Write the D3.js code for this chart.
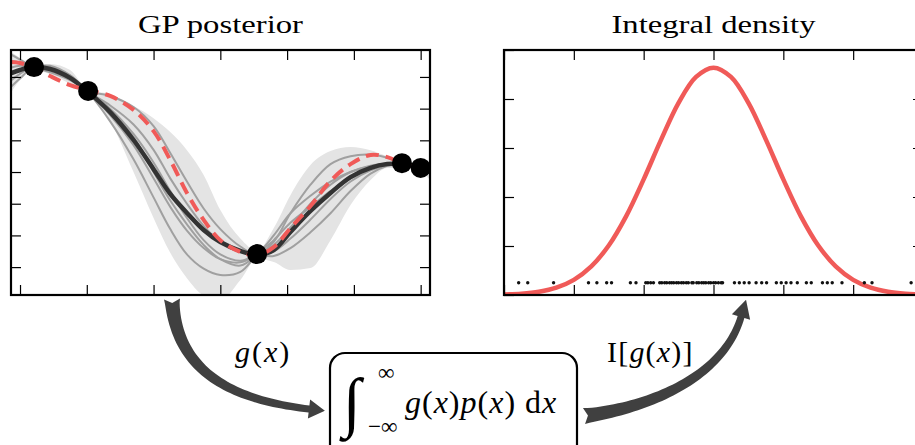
<!DOCTYPE html>
<html>
<head>
<meta charset="utf-8">
<script src="https://cdn.jsdelivr.net/npm/d3@7"></script>
<style>
  body { margin: 0; background: #fff; }
  svg { display: block; }
  .tick text { display: none; }
</style>
</head>
<body>
<div id="chart"></div>
<script>
// GP posterior panel: shared x grid (tick units) and the curves
const gridX = [-0.13, 0, 0.2, 0.45, 0.75, 1.0, 1.35, 1.7, 2.0, 2.25, 2.5, 2.75, 3.0,
               3.3, 3.55, 3.8, 4.05, 4.35, 4.65, 4.95, 5.25, 5.5, 5.72, 6.0, 6.14];
const meanY = [3.12, 3.22, 3.31, 3.25, 2.97, 2.56, 1.89, 1.01, 0.09, -0.69, -1.29, -1.83, -2.21,
               -2.49, -2.62, -2.46, -1.89, -1.23, -0.66, -0.16, 0.13, 0.25, 0.25, 0.13, 0.0];
const trueY = [3.47, 3.44, 3.31, 3.03, 2.74, 2.59, 2.40, 1.96, 1.29, 0.38, -0.66, -1.51, -2.15,
               -2.52, -2.62, -2.37, -1.77, -1.07, -0.28, 0.25, 0.54, 0.47, 0.28, 0.13, 0.06];
const bandUpper = [3.79, 3.60, 3.38, 3.41, 3.22, 2.62, 2.45, 2.08, 1.70, 1.26, 0.69, -0.09, -1.20,
                   -2.10, -2.49, -1.77, -0.73, 0.22, 0.66, 0.79, 0.69, 0.50, 0.38, 0.25, 0.22];
const bandLower = [2.52, 2.90, 3.22, 3.09, 2.78, 2.49, 1.60, 0.0, -1.45, -2.55, -3.35, -3.90, -4.05,
                   -3.41, -2.74, -2.84, -3.09, -3.03, -2.15, -1.04, -0.25, 0.13, 0.13, 0.0, -0.25];
const sample1 = [3.5, 3.45, 3.31, 3.2, 2.95, 2.56, 2.4, 2.05, 1.45, 0.6, -0.3, -1.15, -1.8,
                 -2.35, -2.6, -2.2, -1.3, -0.4, 0.25, 0.5, 0.55, 0.45, 0.3, 0.13, 0.05];
const sample2 = [2.7, 2.95, 3.3, 3.3, 3.0, 2.56, 1.6, 0.4, -0.8, -1.8, -2.6, -3.05, -3.25,
                 -3.15, -2.6, -2.15, -1.6, -1.1, -0.6, -0.2, 0.1, 0.24, 0.28, 0.13, 0.0];
const sample3 = [3.3, 3.35, 3.31, 3.28, 3.05, 2.56, 2.1, 1.5, 0.7, -0.2, -1.0, -1.7, -2.2,
                 -2.5, -2.6, -2.65, -2.4, -1.9, -1.3, -0.6, -0.05, 0.2, 0.28, 0.14, 0.05];
const sample4 = [2.9, 3.1, 3.31, 3.35, 3.05, 2.56, 1.8, 0.85, -0.2, -1.1, -1.85, -2.4, -2.75,
                 -2.85, -2.6, -2.3, -1.75, -1.0, -0.4, 0.0, 0.2, 0.27, 0.28, 0.13, 0.02];
const sample5 = [3.7, 3.55, 3.31, 3.15, 2.9, 2.56, 2.0, 1.2, 0.3, -0.6, -1.45, -2.15, -2.6,
                 -2.8, -2.6, -2.5, -2.1, -1.5, -0.85, -0.3, 0.05, 0.22, 0.28, 0.12, 0.0];
const sample6 = [3.1, 3.2, 3.31, 3.3, 3.0, 2.56, 1.95, 1.1, 0.0, -0.9, -1.65, -2.3, -2.75,
                 -2.95, -2.6, -2.0, -1.3, -0.75, -0.3, 0.0, 0.18, 0.26, 0.28, 0.13, 0.02];
const obsX = [0.21, 1.02, 3.55, 5.72, 6.0];
const obsY = [3.31, 2.56, -2.59, 0.28, 0.13];
const gpTicksX = [0, 1, 2, 3, 4, 5, 6];
const gpTicksY = [-3, -2, -1, 0, 1, 2, 3];

// Integral density panel
const densX = [-3, -2.75, -2.5, -2.25, -2, -1.75, -1.5, -1.25, -1, -0.75, -0.5, -0.25, 0,
               0.25, 0.5, 0.75, 1, 1.25, 1.5, 1.75, 2, 2.25, 2.5, 2.75, 3];
const densY = [0.0011, 0.0028, 0.0068, 0.0151, 0.031, 0.0585, 0.101, 0.161, 0.236, 0.317, 0.392, 0.445, 0.464,
               0.445, 0.392, 0.317, 0.236, 0.161, 0.101, 0.0585, 0.031, 0.0151, 0.0068, 0.0028, 0.0011];
const integralSamples = [-2.79, -2.66, -2.29, -1.79, -1.67, -1.53, -1.46, -1.19, -1.11,
  -0.97, -0.94, -0.90, -0.86, -0.77, -0.74, -0.70, -0.67, -0.63, -0.60, -0.57, -0.53, -0.50,
  -0.46, -0.43, -0.39, -0.36, -0.31, -0.29, -0.24, -0.21, -0.17, -0.14, -0.11, -0.07, -0.04,
  0.0, 0.03, 0.07, 0.11, 0.13, 0.30, 0.37, 0.44, 0.51, 0.61, 0.69, 0.76, 0.90, 0.97, 1.04,
  1.11, 1.20, 1.33, 1.40, 1.56, 1.63, 1.70, 1.84, 2.16, 2.27, 2.83];
const sampleLevel = 0.025;
const densTicksX = [-3, -2, -1, 0, 1, 2, 3];
const densTicksY = [0, 0.1, 0.2, 0.3, 0.4, 0.5];

const titles = ["GP posterior", "Integral density"];

const width = 915, height = 445;
const red = "#f05a58", arrowGrey = "#404040";
const serif = "'Liberation Serif', 'Times New Roman', serif";

const svg = d3.select("#chart").append("svg")
    .attr("width", width)
    .attr("height", height);

// panel frames (same size for both)
const gpBox = {x: 11, y: 50, w: 419, h: 245};
const dBox = {x: 504, y: 50, w: 419, h: 245};

const xL = d3.scaleLinear().domain([-0.135, 6.14]).range([gpBox.x, gpBox.x + gpBox.w]);
const yL = d3.scaleLinear().domain([-3.88, 3.85]).range([gpBox.y + gpBox.h, gpBox.y]);
const xR = d3.scaleLinear().domain([-3, 3]).range([dBox.x, dBox.x + dBox.w]);
const yR = d3.scaleLinear().domain([0, 0.5]).range([dBox.y + dBox.h, dBox.y]);

svg.append("clipPath").attr("id", "clipL")
  .append("rect").attr("x", gpBox.x).attr("y", gpBox.y).attr("width", gpBox.w).attr("height", gpBox.h);
svg.append("clipPath").attr("id", "clipR")
  .append("rect").attr("x", dBox.x).attr("y", dBox.y).attr("width", dBox.w).attr("height", dBox.h);

// ---------- GP posterior ----------
const gL = svg.append("g").attr("clip-path", "url(#clipL)");

const band = gridX.map((x, i) => ({x: x, lo: bandLower[i], hi: bandUpper[i]}));
gL.append("path")
    .datum(band)
    .attr("fill", "#e4e4e4")
    .attr("d", d3.area().curve(d3.curveMonotoneX)
        .x(d => xL(d.x)).y0(d => yL(d.lo)).y1(d => yL(d.hi)));

const lineL = d3.line().curve(d3.curveCatmullRom)
    .x(d => xL(d[0])).y(d => yL(d[1]));
const zipL = ys => gridX.map((x, i) => [x, ys[i]]);

[sample1, sample2, sample3, sample4, sample5, sample6].forEach(s => {
  gL.append("path")
      .datum(zipL(s))
      .attr("fill", "none")
      .attr("stroke", "#a0a0a0")
      .attr("stroke-width", 2)
      .attr("d", lineL);
});

gL.append("path")
    .datum(zipL(meanY))
    .attr("fill", "none")
    .attr("stroke", "#333")
    .attr("stroke-width", 4.5)
    .attr("d", lineL);

gL.append("path")
    .datum(zipL(trueY))
    .attr("fill", "none")
    .attr("stroke", red)
    .attr("stroke-width", 4)
    .attr("stroke-dasharray", "13,7")
    .attr("d", lineL);

gL.selectAll(".obs")
  .data(obsX.map((x, i) => [x, obsY[i]]))
  .enter().append("circle")
    .attr("class", "obs")
    .attr("cx", d => xL(d[0]))
    .attr("cy", d => yL(d[1]))
    .attr("r", 10)
    .attr("fill", "#000");

// ---------- Integral density ----------
const gR = svg.append("g").attr("clip-path", "url(#clipR)");

gR.append("path")
    .datum(densX.map((x, i) => [x, densY[i]]))
    .attr("fill", "none")
    .attr("stroke", red)
    .attr("stroke-width", 4.5)
    .attr("d", d3.line().curve(d3.curveCatmullRom).x(d => xR(d[0])).y(d => yR(d[1])));

gR.selectAll(".smp")
  .data(integralSamples)
  .enter().append("circle")
    .attr("class", "smp")
    .attr("cx", d => xR(d))
    .attr("cy", yR(sampleLevel))
    .attr("r", 1.7)
    .attr("fill", "#111");

// ---------- axes: inward ticks, no labels ----------
function frame(box, xs, ys, xt, yt) {
  const axes = [
    [d3.axisTop(xs).tickValues(xt), `translate(0,${box.y})`],
    [d3.axisBottom(xs).tickValues(xt), `translate(0,${box.y + box.h})`],
    [d3.axisLeft(ys).tickValues(yt), `translate(${box.x},0)`],
    [d3.axisRight(ys).tickValues(yt), `translate(${box.x + box.w},0)`]
  ];
  axes.forEach(([ax, tr]) => {
    const g = svg.append("g").attr("transform", tr)
        .call(ax.tickSize(-10).tickFormat(""));
    g.select(".domain").remove();
    g.selectAll(".tick line").attr("stroke", "#000").attr("stroke-width", 1.2);
  });
  svg.append("rect")
      .attr("x", box.x).attr("y", box.y)
      .attr("width", box.w).attr("height", box.h)
      .attr("fill", "none")
      .attr("stroke", "#000")
      .attr("stroke-width", 2.2);
}
frame(gpBox, xL, yL, gpTicksX, gpTicksY);
frame(dBox, xR, yR, densTicksX, densTicksY);

// titles
svg.append("text")
    .attr("x", gpBox.x + gpBox.w / 2).attr("y", 33)
    .attr("text-anchor", "middle")
    .attr("textLength", 165).attr("lengthAdjust", "spacingAndGlyphs")
    .style("font-family", serif).style("font-size", "26px")
    .text(titles[0]);
svg.append("text")
    .attr("x", dBox.x + dBox.w / 2).attr("y", 33)
    .attr("text-anchor", "middle")
    .attr("textLength", 204).attr("lengthAdjust", "spacingAndGlyphs")
    .style("font-family", serif).style("font-size", "26px")
    .text(titles[1]);

// ---------- curved tapered arrows ----------
function arrow(p0, p1, p2, p3, w0, w1, hw, hl, notch) {
  const bz = t => {
    const u = 1 - t;
    return [u*u*u*p0[0] + 3*u*u*t*p1[0] + 3*u*t*t*p2[0] + t*t*t*p3[0],
            u*u*u*p0[1] + 3*u*u*t*p1[1] + 3*u*t*t*p2[1] + t*t*t*p3[1]];
  };
  const dz = t => {
    const u = 1 - t;
    const dx = 3*u*u*(p1[0]-p0[0]) + 6*u*t*(p2[0]-p1[0]) + 3*t*t*(p3[0]-p2[0]);
    const dy = 3*u*u*(p1[1]-p0[1]) + 6*u*t*(p2[1]-p1[1]) + 3*t*t*(p3[1]-p2[1]);
    const l = Math.hypot(dx, dy);
    return [dx / l, dy / l];
  };
  const L = [], R = [];
  const n = 50;
  for (let i = 0; i <= n; i++) {
    const t = i / n, c = bz(t), d = dz(t);
    const w = (w0 + (w1 - w0) * Math.sqrt(t)) / 2;
    L.push([c[0] - d[1] * w, c[1] + d[0] * w]);
    R.push([c[0] + d[1] * w, c[1] - d[0] * w]);
  }
  const e = dz(1), d0 = dz(0);
  const p = d3.path();
  p.moveTo(L[0][0], L[0][1]);
  L.forEach(q => p.lineTo(q[0], q[1]));
  p.lineTo(p3[0] - e[1] * hw / 2, p3[1] + e[0] * hw / 2);
  p.lineTo(p3[0] + e[0] * hl, p3[1] + e[1] * hl);
  p.lineTo(p3[0] + e[1] * hw / 2, p3[1] - e[0] * hw / 2);
  R.slice().reverse().forEach(q => p.lineTo(q[0], q[1]));
  p.lineTo(p0[0] + d0[0] * notch, p0[1] + d0[1] * notch);
  p.closePath();
  return p.toString();
}

svg.append("path")
    .attr("d", arrow([172, 299], [176, 372], [232, 400], [309, 409], 16, 7, 19, 16, 4))
    .attr("fill", arrowGrey);
svg.append("path")
    .attr("d", arrow([584, 416], [660, 406], [725, 372], [741, 317], 16, 7, 19, 18, 4))
    .attr("fill", arrowGrey);

// arrow labels
const gx = svg.append("text")
    .attr("x", 235).attr("y", 362)
    .style("font-family", serif).style("font-size", "30px")
    .style("letter-spacing", "2px");
gx.append("tspan").style("font-style", "italic").text("g");
gx.append("tspan").text("(");
gx.append("tspan").style("font-style", "italic").text("x");
gx.append("tspan").text(")");

const ig = svg.append("text")
    .attr("x", 607).attr("y", 362)
    .style("font-family", serif).style("font-size", "30px")
    .style("letter-spacing", "1.2px");
ig.append("tspan").text("I[");
ig.append("tspan").style("font-style", "italic").text("g");
ig.append("tspan").text("(");
ig.append("tspan").style("font-style", "italic").text("x");
ig.append("tspan").text(")]");

// integral box
svg.append("rect")
    .attr("x", 330).attr("y", 353)
    .attr("width", 247).attr("height", 120)
    .attr("rx", 15)
    .attr("fill", "#fff")
    .attr("stroke", "#000")
    .attr("stroke-width", 2.2);

svg.append("text")
    .attr("x", 343).attr("y", 424)
    .style("font-family", serif).style("font-size", "66px")
    .style("font-style", "italic")
    .text("∫");
svg.append("text")
    .attr("x", 378).attr("y", 380)
    .style("font-family", serif).style("font-size", "23px")
    .text("∞");
svg.append("text")
    .attr("x", 368).attr("y", 434)
    .style("font-family", serif).style("font-size", "23px")
    .text("−∞");

const body = svg.append("text")
    .attr("x", 405).attr("y", 413)
    .style("font-family", serif).style("font-size", "32px")
    .style("letter-spacing", "1px");
body.append("tspan").style("font-style", "italic").text("g");
body.append("tspan").text("(");
body.append("tspan").style("font-style", "italic").text("x");
body.append("tspan").text(")");
body.append("tspan").style("font-style", "italic").text("p");
body.append("tspan").text("(");
body.append("tspan").style("font-style", "italic").text("x");
body.append("tspan").text(") d");
body.append("tspan").style("font-style", "italic").text("x");
</script>
</body>
</html>
